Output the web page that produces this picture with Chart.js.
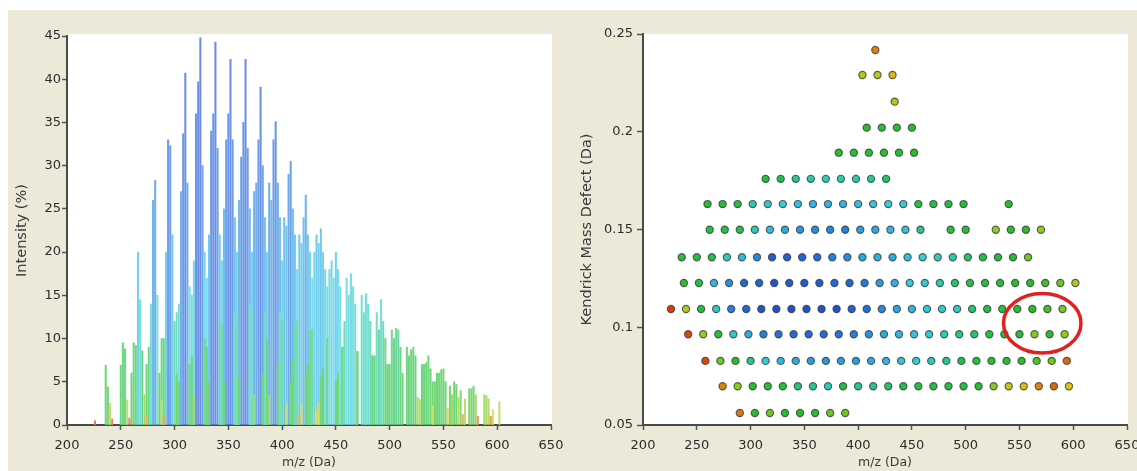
<!DOCTYPE html>
<html>
<head>
<meta charset="utf-8">
<script src="https://cdn.jsdelivr.net/npm/chart.js@4.4.1/dist/chart.umd.min.js"></script>
<style>
  html, body { margin: 0; padding: 0; background: #fff; }
  #wrap { position: relative; width: 1137px; height: 471px; overflow: hidden; }
  #bg { position: absolute; left: 8px; top: 10px; right: 0; bottom: 0; background: #ece9d8; }
  #spec { position: absolute; left: 0; top: 0; }
  #kmd { position: absolute; left: 568px; top: 0; }
</style>
</head>
<body>
<div id="wrap">
  <div id="bg"></div>
  <canvas id="spec" width="600" height="471"></canvas>
  <canvas id="kmd" width="600" height="471"></canvas>
</div>
<script>
// one entry per homologous series (a row in the Kendrick plot), top row first
const seriesKmd = [0.2418, 0.229, 0.2154, 0.2021, 0.1893, 0.1759, 0.1630, 0.1499, 0.1358, 0.1226, 0.1093, 0.0964, 0.0828, 0.0698, 0.0561];

const seriesMz = [
  [416],
  [404, 418, 432],
  [434],
  [408, 422, 436, 450],
  [382, 396, 410, 424, 438, 452],
  [314, 328, 342, 356, 370, 384, 398, 412, 426],
  [260, 274, 288, 302, 316, 330, 344, 358, 372, 386, 400, 414, 428, 442, 456, 470, 484, 498, 540],
  [262, 276, 290, 304, 318, 332, 346, 360, 374, 388, 402, 416, 430, 444, 458, 486, 500, 528, 542, 556, 570],
  [236, 250, 264, 278, 292, 306, 320, 334, 348, 362, 376, 390, 404, 418, 432, 446, 460, 474, 488, 502, 516, 530, 544, 558],
  [238, 252, 266, 280, 294, 308, 322, 336, 350, 364, 378, 392, 406, 420, 434, 448, 462, 476, 490, 504, 518, 532, 546, 560, 574, 588, 602],
  [226, 240, 254, 268, 282, 296, 310, 324, 338, 352, 366, 380, 394, 408, 422, 436, 450, 464, 478, 492, 506, 520, 534, 548, 562, 576, 590],
  [242, 256, 270, 284, 298, 312, 326, 340, 354, 368, 382, 396, 410, 424, 438, 452, 466, 480, 494, 508, 522, 536, 550, 564, 578, 592],
  [258, 272, 286, 300, 314, 328, 342, 356, 370, 384, 398, 412, 426, 440, 454, 468, 482, 496, 510, 524, 538, 552, 566, 580, 594],
  [274, 288, 302, 316, 330, 344, 358, 372, 386, 400, 414, 428, 442, 456, 470, 484, 498, 512, 526, 540, 554, 568, 582, 596],
  [290, 304, 318, 332, 346, 360, 374, 388]
];

// relative intensity (%) of every peak, same layout as seriesMz
const seriesInt = [
  [1.2],
  [2.5, 2.5, 1.7],
  [2.6],
  [5, 6, 5.5, 5],
  [6, 7, 7.5, 7, 6.5, 6],
  [7, 10, 12, 13, 14, 13, 13, 12, 11],
  [6, 7, 10, 13, 15, 17, 19, 20, 20, 20, 19, 18, 17, 16, 9, 8.5, 8, 7, 5],
  [9.5, 9, 10, 14, 19, 22, 25, 26, 27, 28, 24, 22, 20, 18, 12, 8, 7, 3, 5, 4.5, 3],
  [6.9, 6.9, 9.2, 14, 20, 27, 36, 34, 33, 31, 28, 26, 23, 21, 22, 19, 17, 15, 13, 11, 9, 7, 6, 3.5],
  [4.4, 9.5, 20, 26, 33, 33.7, 39.7, 36, 36, 35, 33, 33, 29, 24, 21, 17, 15, 13, 11, 10, 8, 7, 6, 5, 4.2, 3.5, 2.7],
  [0.5, 2.5, 8.8, 14.5, 28.3, 32.3, 40.7, 44.8, 44.3, 42.3, 42.3, 39.1, 35.1, 30.5, 26.6, 22.7, 20, 17.5, 15.2, 14.5, 11.2, 8.7, 7.2, 6.4, 4.7, 4.2, 3.4],
  [0.7, 2.9, 8.6, 15, 22, 28, 30, 32, 33, 32, 30, 28, 25, 22, 20, 18, 16, 14, 12, 11, 9, 8, 6.5, 3.2, 4.5, 3],
  [0.8, 3.5, 6, 12, 16, 20, 22, 24, 25, 24, 24, 22, 20, 18, 16, 14, 12, 10, 9, 8, 6.5, 5, 4, 3.5, 1.0],
  [1.2, 3, 5.8, 8, 9, 11.4, 12, 13, 10, 12, 12, 11, 10, 9, 8.5, 8, 7, 6, 3.2, 2.2, 2, 1.2, 1.0, 1.8],
  [1.1, 5, 3.5, 5, 5, 5.5, 3.5, 3.5]
];

const mzTicks = [200, 250, 300, 350, 400, 450, 500, 550, 600, 650];
const intensityTicks = [0, 5, 10, 15, 20, 25, 30, 35, 40, 45];
const kmdTicks = [0.05, 0.1, 0.15, 0.2, 0.25];
const kmdTickLabels = ['0.05', '0.1', '0.15', '0.2', '0.25'];

// highlighted region (red ellipse), bounding box in data units
const circleMz = [535.2, 607.2];
const circleKmd = [0.0868, 0.1173];

// colour scale, intensity -> rgb
const colourStops = [
  [0, [220, 30, 15]], [0.8, [225, 70, 15]], [1.2, [225, 130, 15]], [1.8, [220, 195, 20]],
  [2.8, [160, 205, 30]], [4.5, [40, 190, 40]], [10, [30, 195, 70]], [13, [40, 205, 170]],
  [17, [50, 205, 225]], [23, [40, 165, 230]], [30, [30, 115, 222]], [38, [28, 85, 218]], [45, [30, 78, 212]]
];

function colourFor(v, wash) {
  let c = colourStops[colourStops.length - 1][1];
  for (let i = 1; i < colourStops.length; i++) {
    if (v <= colourStops[i][0]) {
      const a = colourStops[i - 1], b = colourStops[i];
      const t = (v - a[0]) / (b[0] - a[0]);
      c = a[1].map((ch, k) => ch + (b[1][k] - ch) * Math.max(0, t));
      break;
    }
  }
  c = c.map(ch => Math.round(ch + (255 - ch) * wash));
  return 'rgb(' + c.join(',') + ')';
}

// flatten into points
const peaks = [];
seriesMz.forEach((row, r) => {
  row.forEach((mz, k) => {
    peaks.push({ x: mz, y: seriesKmd[r], i: seriesInt[r][k] });
  });
});

// tallest first so the short peaks sit in front
const barData = peaks.map(p => ({ x: p.x, y: p.i })).sort((a, b) => b.y - a.y);

Chart.defaults.font.family = "'DejaVu Sans', Verdana, sans-serif";
Chart.defaults.font.size = 13;
Chart.defaults.color = '#2c2c2c';

const plotBg = {
  id: 'plotBg',
  beforeDraw(chart, args, opts) {
    const a = chart.chartArea, ctx = chart.ctx;
    ctx.save();
    ctx.fillStyle = '#fff';
    ctx.fillRect(a.left, a.top - opts.extraTop, a.right - a.left + 1, a.bottom - a.top + opts.extraTop);
    ctx.restore();
  }
};

const ellipse = {
  id: 'ellipse',
  afterDatasetsDraw(chart) {
    const x = chart.scales.x, y = chart.scales.y, ctx = chart.ctx;
    const x0 = x.getPixelForValue(circleMz[0]), x1 = x.getPixelForValue(circleMz[1]);
    const y0 = y.getPixelForValue(circleKmd[0]), y1 = y.getPixelForValue(circleKmd[1]);
    ctx.save();
    ctx.strokeStyle = '#e41f1f';
    ctx.lineWidth = 3.5;
    ctx.beginPath();
    ctx.ellipse((x0 + x1) / 2, (y0 + y1) / 2, (x1 - x0) / 2, (y0 - y1) / 2, 0, 0, Math.PI * 2);
    ctx.stroke();
    ctx.restore();
  }
};

function xAxis() {
  return {
    type: 'linear',
    min: 200, max: 650,
    offset: false,
    afterBuildTicks: s => { s.ticks = mzTicks.map(v => ({ value: v })); },
    afterFit: s => { s.height = 46; },
    border: { display: true, color: '#4a4a4a', width: 2 },
    grid: { display: true, drawOnChartArea: false, drawTicks: true, tickLength: 5, tickColor: '#555', tickWidth: 1.5, offset: false },
    ticks: { padding: 8, maxRotation: 0, autoSkip: false, callback: v => String(v) },
    title: { display: true, text: 'm/z (Da)', font: { size: 12.5 }, color: '#3a3a3a', padding: { top: 0, bottom: 1 } }
  };
}

// nudge the layout padding so the plot area lands where the reference has it
function pinArea(chart, target) {
  const a = chart.chartArea, p = chart.options.layout.padding;
  p.left += target.left - a.left;
  p.right += a.right - target.right;
  p.top += target.top - a.top;
  p.bottom += a.bottom - target.bottom;
  chart.update();
}

const spectrum = new Chart(document.getElementById('spec'), {
  type: 'bar',
  data: {
    datasets: [{
      data: barData,
      backgroundColor: ctx => ctx.raw ? colourFor(ctx.raw.y, 0.35) : '#6a9',
      borderWidth: 0,
      barThickness: 1.4
    }]
  },
  options: {
    responsive: false,
    animation: false,
    layout: { padding: { left: 0, right: 49, top: 36, bottom: 0 } },
    plugins: { legend: { display: false }, tooltip: { enabled: false }, plotBg: { extraTop: 2 } },
    scales: {
      x: xAxis(),
      y: {
        min: 0, max: 45,
        afterBuildTicks: s => { s.ticks = intensityTicks.map(v => ({ value: v })); },
        afterFit: s => { s.width = 67; },
        border: { display: true, color: '#4a4a4a', width: 2 },
        grid: { display: true, drawOnChartArea: false, drawTicks: true, tickLength: 5, tickColor: '#555', tickWidth: 1.5 },
        ticks: { padding: 1, callback: v => String(v) },
        title: { display: true, text: 'Intensity (%)', font: { size: 14.5 }, color: '#3a3a3a', padding: { top: 14, bottom: 0 } }
      }
    }
  },
  plugins: [plotBg]
});
pinArea(spectrum, { left: 67, right: 551, top: 36, bottom: 425 });

const kendrick = new Chart(document.getElementById('kmd'), {
  type: 'scatter',
  data: {
    datasets: [{
      data: peaks,
      pointRadius: 3.6,
      pointBorderWidth: 1.2,
      pointBorderColor: 'rgba(60,60,60,0.8)',
      pointBackgroundColor: ctx => ctx.raw ? colourFor(ctx.raw.i, 0) : '#3c3',
      showLine: false
    }]
  },
  options: {
    responsive: false,
    animation: false,
    layout: { padding: { left: 0, right: 41, top: 34, bottom: 0 } },
    plugins: { legend: { display: false }, tooltip: { enabled: false }, plotBg: { extraTop: 0 } },
    scales: {
      x: xAxis(),
      y: {
        min: 0.05, max: 0.25,
        afterBuildTicks: s => { s.ticks = kmdTicks.map(v => ({ value: v })); },
        afterFit: s => { s.width = 75; },
        border: { display: true, color: '#4a4a4a', width: 2 },
        grid: { display: true, drawOnChartArea: false, drawTicks: true, tickLength: 6, tickColor: '#555', tickWidth: 1.5 },
        ticks: { padding: 4, callback: (v, i) => kmdTickLabels[i] },
        title: { display: true, text: 'Kendrick Mass Defect (Da)', font: { size: 14.5 }, color: '#3a3a3a', padding: { top: 11, bottom: 0 } }
      }
    }
  },
  plugins: [plotBg, ellipse]
});
pinArea(kendrick, { left: 75, right: 559, top: 34, bottom: 425 });
</script>
</body>
</html>
